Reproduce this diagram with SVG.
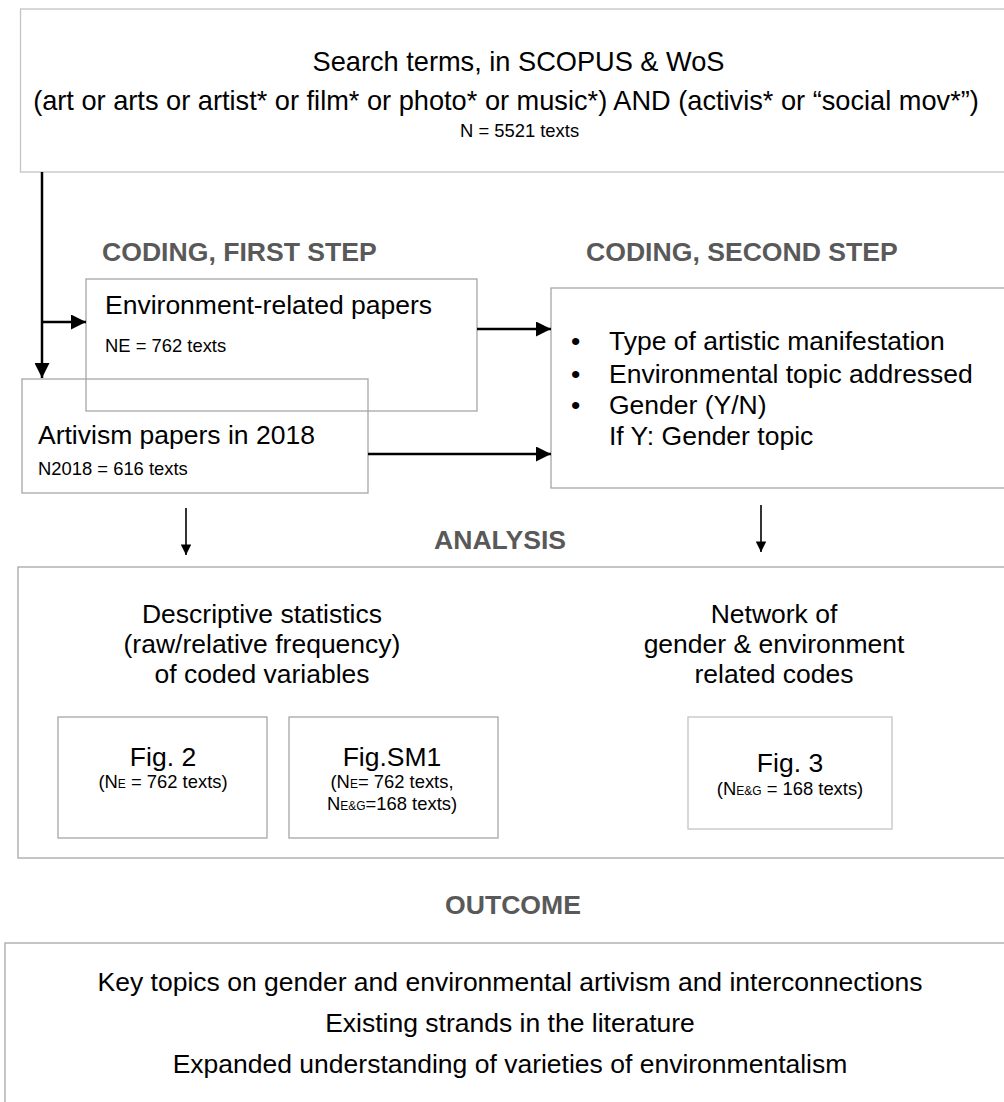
<svg xmlns="http://www.w3.org/2000/svg" width="1004" height="1102" viewBox="0 0 1004 1102">
<style>
text{font-family:"Liberation Sans",Arial,sans-serif;fill:#000}
.b{font-size:26.5px}
.t{font-size:27.2px}
.s{font-size:18.4px}
.h{font-size:26.6px;font-weight:bold;fill:#595959}
.c{text-anchor:middle}
.box{fill:#fff;stroke:#a6a6a6;stroke-width:1.3}
.lt{fill:none;stroke:#c4c4c4;stroke-width:1.3}
.ar{fill:none;stroke:#000;stroke-width:2.5}
.ar2{fill:none;stroke:#000;stroke-width:1.6}
</style>
<defs>
<marker id="ah" viewBox="0 0 10 10" refX="10" refY="5" markerWidth="6" markerHeight="6" markerUnits="strokeWidth" orient="auto"><path d="M0,0 L10,5 L0,10 z" fill="#000"/></marker>
<marker id="ah2" viewBox="0 0 10 10" refX="10" refY="5" markerWidth="8.5" markerHeight="6.5" markerUnits="strokeWidth" orient="auto"><path d="M0,0 L10,5 L0,10 z" fill="#000"/></marker>
</defs>
<rect width="1004" height="1102" fill="#fff"/>

<g id="search">
<rect class="lt" x="20.5" y="9" width="1000" height="163"/>
<text class="t c" x="518.5" y="71">Search terms,  in SCOPUS &amp; WoS</text>
<text class="t c" x="506" y="110">(art or arts or artist* or film* or photo* or music*) AND (activis* or “social mov*”)</text>
<text class="s" x="460" y="137">N = 5521 texts</text>
</g>

<text class="h" x="102" y="261">CODING, FIRST STEP</text>
<text class="h" x="586" y="261">CODING, SECOND STEP</text>

<g id="env">
<rect class="box" x="86" y="279" width="391" height="132" style="fill:none"/>
<text class="b" x="105" y="314">Environment-related papers</text>
<text class="s" x="105" y="352">NE = 762 texts</text>
</g>

<g id="artivism">
<rect class="box" x="22" y="379" width="346" height="114" style="fill:none"/>
<text class="b" x="38" y="444">Artivism papers in 2018</text>
<text class="s" x="38" y="475">N2018 = 616 texts</text>
</g>

<g id="second">
<rect class="box" x="551" y="288" width="460" height="200"/>
<text class="b" x="571" y="350">•</text>
<text class="b" x="609" y="350">Type of artistic manifestation</text>
<text class="b" x="571" y="383">•</text>
<text class="b" x="609" y="383">Environmental topic addressed</text>
<text class="b" x="571" y="414">•</text>
<text class="b" x="609" y="414">Gender (Y/N)</text>
<text class="b" x="609" y="445">If Y: Gender topic</text>
</g>

<text class="h c" x="500" y="549">ANALYSIS</text>

<g id="analysis">
<rect class="box" x="18" y="567" width="993" height="291"/>
<text class="b c" x="262" y="623">Descriptive statistics</text>
<text class="b c" x="262" y="653">(raw/relative frequency)</text>
<text class="b c" x="262" y="683">of coded variables</text>
<text class="b c" x="774" y="623">Network of</text>
<text class="b c" x="774" y="653">gender &amp; environment</text>
<text class="b c" x="774" y="683">related codes</text>
</g>

<g id="fig2">
<rect class="box" x="58" y="717" width="209" height="121"/>
<text class="b c" x="163" y="766">Fig. 2</text>
<text class="s c" x="163" y="788">(N<tspan font-size="12">E</tspan> = 762 texts)</text>
</g>

<g id="figsm1">
<rect class="box" x="289" y="717" width="209" height="121"/>
<text class="b c" x="392" y="766">Fig.SM1</text>
<text class="s c" x="392" y="788">(N<tspan font-size="12">E</tspan>= 762 texts,</text>
<text class="s c" x="392" y="810">N<tspan font-size="12">E&amp;G</tspan>=168 texts)</text>
</g>

<g id="fig3">
<rect class="box" x="688" y="717" width="204" height="112" style="stroke:#c4c4c4"/>
<text class="b c" x="790" y="772">Fig. 3</text>
<text class="s c" x="790" y="795">(N<tspan font-size="12">E&amp;G</tspan> = 168 texts)</text>
</g>

<text class="h c" x="513" y="914">OUTCOME</text>

<g id="outcome">
<rect class="box" x="5" y="943" width="1010" height="200"/>
<text class="b c" x="510" y="991">Key topics on gender and environmental artivism and interconnections</text>
<text class="b c" x="510" y="1032">Existing strands in the literature</text>
<text class="b c" x="510" y="1073">Expanded understanding of varieties of environmentalism</text>
</g>

<g id="connectors">
<path class="ar" d="M42,172 V378" marker-end="url(#ah)"/>
<path class="ar" d="M42,322 H86" marker-end="url(#ah)"/>
<path class="ar" d="M477,329 H551" marker-end="url(#ah)"/>
<path class="ar" d="M368,454 H551" marker-end="url(#ah)"/>
<path class="ar2" d="M186,508 V555" marker-end="url(#ah2)"/>
<path class="ar2" d="M761,505 V552" marker-end="url(#ah2)"/>
</g>
</svg>
